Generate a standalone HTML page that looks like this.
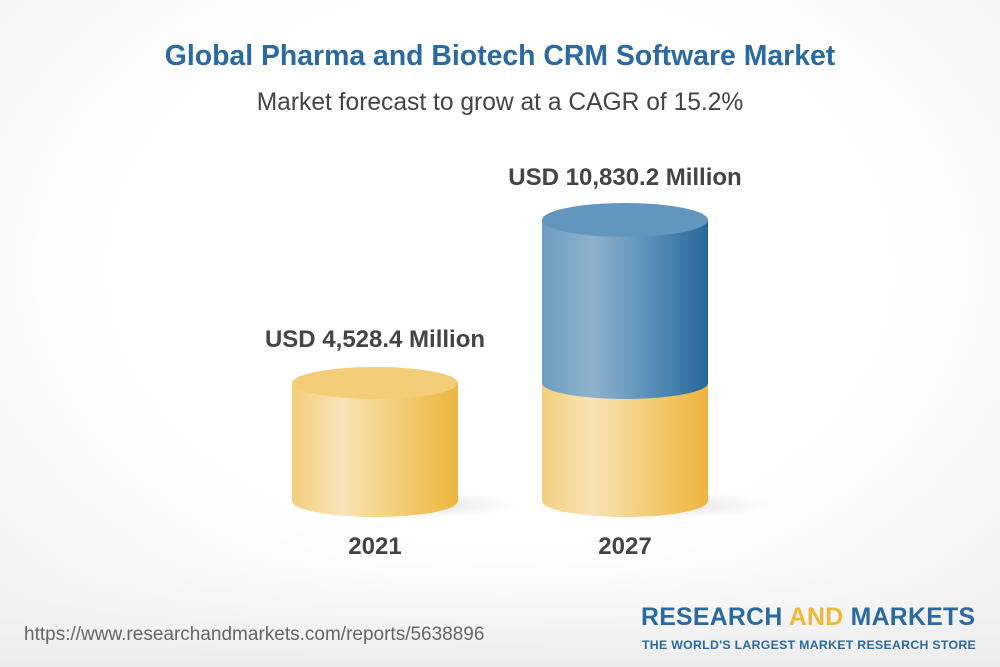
<!DOCTYPE html>
<html><head><meta charset="utf-8"><style>
body{margin:0;width:1000px;height:667px;overflow:hidden;font-family:"Liberation Sans",Arial,sans-serif;}
.bg{position:absolute;left:0;top:0;width:1000px;height:667px;background:radial-gradient(ellipse 70% 75% at 50% 40%,#ffffff 55%,#f1f1f1 100%);}
.t{position:absolute;width:1000px;text-align:center;white-space:nowrap;}
</style></head><body>
<div class="bg"></div>
<svg width="1000" height="667" style="position:absolute;left:0;top:0">
<defs>
<linearGradient id="y" x1="0" x2="1"><stop offset="0" stop-color="#f3cf7c"/><stop offset="0.3" stop-color="#f9e4b8"/><stop offset="0.7" stop-color="#f2c96c"/><stop offset="1" stop-color="#eeb540"/></linearGradient>
<linearGradient id="b" x1="0" x2="1"><stop offset="0" stop-color="#6c9cc0"/><stop offset="0.3" stop-color="#8fb2cd"/><stop offset="0.65" stop-color="#5a8fb8"/><stop offset="1" stop-color="#26679b"/></linearGradient>
<radialGradient id="sh"><stop offset="0" stop-color="#000" stop-opacity="0.12"/><stop offset="1" stop-color="#000" stop-opacity="0"/></radialGradient>
<linearGradient id="ft" x1="0" x2="0" y1="0" y2="1"><stop offset="0" stop-color="#f6f6f6" stop-opacity="0"/><stop offset="1" stop-color="#ececec"/></linearGradient>
</defs>
<rect x="0" y="560" width="1000" height="107" fill="url(#ft)"/>
<ellipse cx="410" cy="505" rx="110" ry="14" fill="url(#sh)"/>
<ellipse cx="660" cy="505" rx="110" ry="14" fill="url(#sh)"/>
<path d="M292 383 V501 A83 16 0 0 0 458 501 V383 Z" fill="url(#y)"/>
<ellipse cx="375" cy="383" rx="83" ry="16" fill="#f4cd78"/>
<path d="M542 383 V501 A83 16 0 0 0 708 501 V383 Z" fill="url(#y)"/>
<path d="M542 220 V383 A83 16 0 0 0 708 383 V220 Z" fill="url(#b)"/>
<ellipse cx="625" cy="220" rx="83" ry="17" fill="#6396bc"/>
</svg>
<div class="t" style="top:40px;font-size:28.4px;font-weight:bold;color:#2a6aa0">Global Pharma and Biotech CRM Software Market</div>
<div class="t" style="top:89px;font-size:24.6px;color:#444">Market forecast to grow at a CAGR of 15.2%</div>
<div style="position:absolute;left:375px;top:326px;transform:translateX(-50%);white-space:nowrap;font-size:24px;font-weight:bold;color:#444">USD 4,528.4 Million</div>
<div style="position:absolute;left:625px;top:164px;transform:translateX(-50%);white-space:nowrap;font-size:24px;font-weight:bold;color:#444">USD 10,830.2 Million</div>
<div style="position:absolute;left:375px;top:533px;transform:translateX(-50%);font-size:24px;font-weight:bold;color:#444">2021</div>
<div style="position:absolute;left:625px;top:533px;transform:translateX(-50%);font-size:24px;font-weight:bold;color:#444">2027</div>
<div style="position:absolute;left:24px;top:624px;font-size:19px;color:#666;white-space:nowrap">https://www.researchandmarkets.com/reports/5638896</div>
<div style="position:absolute;left:641px;top:604px;font-size:24.8px;font-weight:bold;color:#2a6aa0;letter-spacing:0.3px;white-space:nowrap">RESEARCH <span style="color:#f0b838">AND</span> MARKETS</div>
<div style="position:absolute;left:642px;top:638px;font-size:12.3px;font-weight:bold;color:#2a6aa0;letter-spacing:0.3px;white-space:nowrap">THE WORLD'S LARGEST MARKET RESEARCH STORE</div>
</body></html>
